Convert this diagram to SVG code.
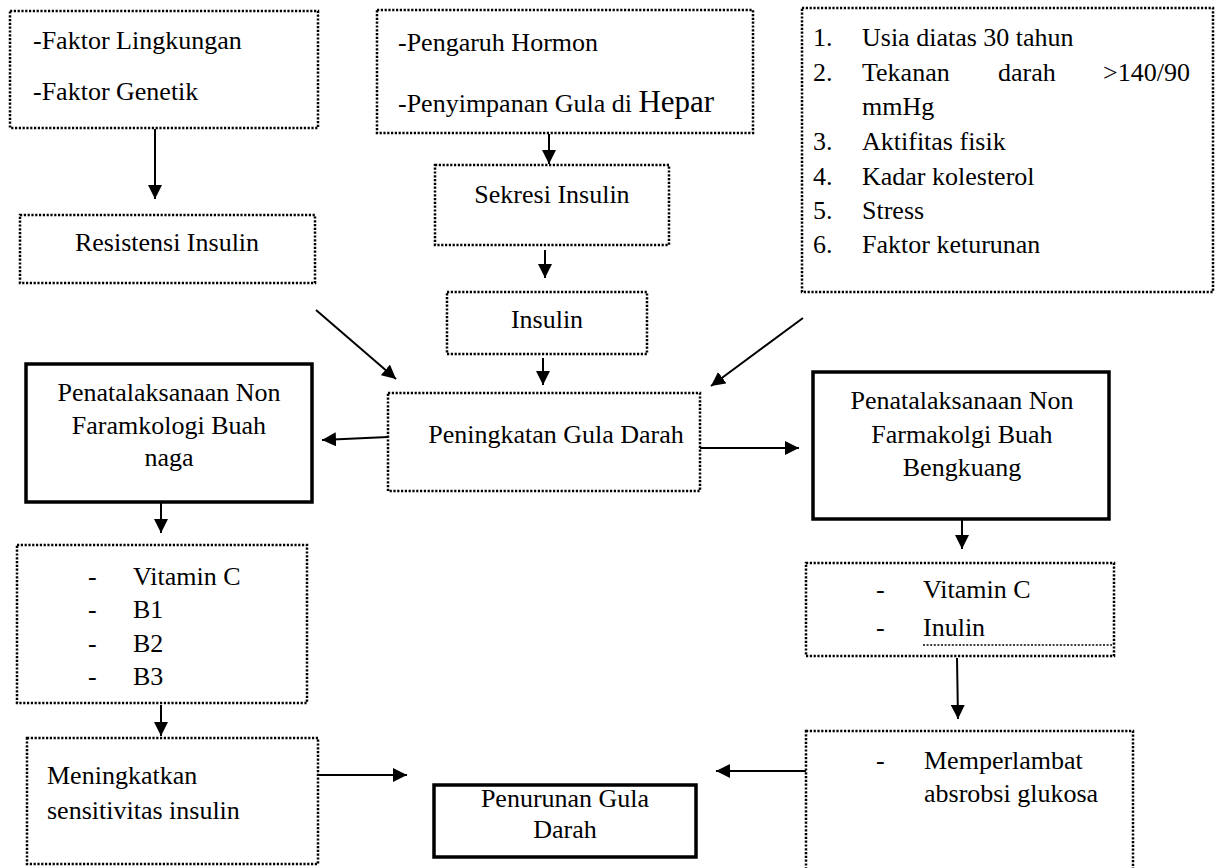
<svg xmlns="http://www.w3.org/2000/svg" width="1222" height="868" viewBox="0 0 1222 868">
<style>
text{font-family:"Liberation Serif","Times New Roman",serif;font-size:26px;fill:#000}
.c{text-anchor:middle}
.dot{fill:#fff;stroke:#000;stroke-width:2.5;stroke-dasharray:2.2 1.6}
.bold{fill:#fff;stroke:#000;stroke-width:3.5}
.ar{stroke:#000;stroke-width:2;fill:none;marker-end:url(#ah)}
</style>
<defs>
<marker id="ah" markerUnits="userSpaceOnUse" markerWidth="14" markerHeight="14" viewBox="0 0 14 14" refX="14" refY="7" orient="auto">
<path d="M0,0 L14,7 L0,14 z" fill="#000"/>
</marker>
</defs>
<rect width="1222" height="868" fill="#fff"/>
<g id="n-faktor"><rect class="dot" x="10" y="11" width="308" height="117"/>
<text x="33" y="49">-Faktor Lingkungan</text><text x="33" y="100">-Faktor Genetik</text></g>
<g id="n-pengaruh"><rect class="dot" x="377" y="10" width="376" height="123"/>
<text x="398" y="51">-Pengaruh Hormon</text><text x="398" y="112">-Penyimpanan Gula di <tspan font-size="31">Hepar</tspan></text></g>
<g id="n-risk"><rect class="dot" x="802" y="8" width="411" height="284"/>
<text x="813" y="46">1.</text><text x="862" y="46">Usia diatas 30 tahun</text>
<text x="813" y="81">2.</text><text x="862" y="81">Tekanan</text><text x="998" y="81">darah</text><text x="1190" y="81" text-anchor="end">&gt;140/90</text>
<text x="862" y="115">mmHg</text>
<text x="813" y="150">3.</text><text x="862" y="150">Aktifitas fisik</text>
<text x="813" y="185">4.</text><text x="862" y="185">Kadar kolesterol</text>
<text x="813" y="219">5.</text><text x="862" y="219">Stress</text>
<text x="813" y="253">6.</text><text x="862" y="253">Faktor keturunan</text></g>
<g id="n-resistensi"><rect class="dot" x="20" y="215" width="295" height="68"/>
<text class="c" x="167" y="251">Resistensi Insulin</text></g>
<g id="n-sekresi"><rect class="dot" x="435" y="165" width="234" height="80"/>
<text class="c" x="552" y="203">Sekresi Insulin</text></g>
<g id="n-insulin"><rect class="dot" x="447" y="292" width="200" height="62"/>
<text class="c" x="547" y="328">Insulin</text></g>
<g id="n-peningkatan"><rect class="dot" x="388" y="393" width="312" height="98"/>
<text class="c" x="556" y="443">Peningkatan Gula Darah</text></g>
<g id="n-naga"><rect class="bold" x="26" y="364" width="286" height="138"/>
<text class="c" x="169" y="401">Penatalaksanaan Non</text><text class="c" x="169" y="434">Faramkologi Buah</text><text class="c" x="169" y="466">naga</text></g>
<g id="n-bengkuang"><rect class="bold" x="813" y="372" width="296" height="147"/>
<text class="c" x="962" y="409">Penatalaksanaan Non</text><text class="c" x="962" y="443">Farmakolgi Buah</text><text class="c" x="962" y="476">Bengkuang</text></g>
<g id="n-vit-naga"><rect class="dot" x="17" y="545" width="290" height="158"/>
<text x="88" y="585">-</text><text x="133" y="585">Vitamin C</text>
<text x="88" y="618">-</text><text x="133" y="618">B1</text>
<text x="88" y="652">-</text><text x="133" y="652">B2</text>
<text x="88" y="685">-</text><text x="133" y="685">B3</text></g>
<g id="n-vit-bengkuang"><rect class="dot" x="806" y="563" width="308" height="93"/>
<text x="876" y="598">-</text><text x="923" y="598">Vitamin C</text>
<text x="876" y="636">-</text><text x="923" y="636">Inulin</text>
<line x1="923" y1="645" x2="1112" y2="645" stroke="#000" stroke-width="1.5" stroke-dasharray="2 1.6"/></g>
<g id="n-meningkatkan"><rect class="dot" x="27" y="738" width="291" height="126"/>
<text x="47" y="784">Meningkatkan</text><text x="47" y="819">sensitivitas insulin</text></g>
<g id="n-penurunan"><rect class="bold" x="434" y="785" width="262" height="72"/>
<text class="c" x="565" y="807">Penurunan Gula</text><text class="c" x="565" y="838">Darah</text></g>
<g id="n-memperlambat"><rect class="dot" x="806" y="731" width="327" height="145"/>
<text x="876" y="769">-</text><text x="924" y="769">Memperlambat</text><text x="924" y="802">absrobsi glukosa</text></g>
<g id="connectors">
<line class="ar" x1="155" y1="129" x2="155" y2="199"/>
<line class="ar" x1="549" y1="134" x2="549" y2="164"/>
<line class="ar" x1="545" y1="250" x2="545" y2="278"/>
<line class="ar" x1="543" y1="358" x2="543" y2="385"/>
<line class="ar" x1="316" y1="310" x2="396" y2="379"/>
<line class="ar" x1="803" y1="318" x2="711" y2="386"/>
<line class="ar" x1="388" y1="437" x2="322" y2="440"/>
<line class="ar" x1="700" y1="448" x2="799" y2="448"/>
<line class="ar" x1="161" y1="503" x2="161" y2="533"/>
<line class="ar" x1="962" y1="520" x2="962" y2="549"/>
<line class="ar" x1="161" y1="705" x2="161" y2="736"/>
<line class="ar" x1="957" y1="658" x2="958" y2="719"/>
<line class="ar" x1="318" y1="775" x2="407" y2="775"/>
<line class="ar" x1="806" y1="771" x2="716" y2="771"/>
</g>
</svg>
